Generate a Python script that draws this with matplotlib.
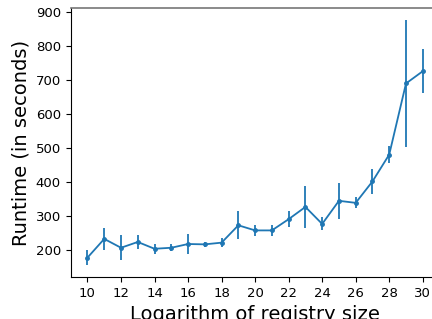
import numpy as np
import matplotlib
matplotlib.use("Agg")
import matplotlib.pyplot as plt

log_size = list(range(10, 31))
runtime = [179, 234, 208, 225, 205, 208, 219, 218, 223, 274,
           259, 259, 292, 328, 278, 346, 340, 403, 482, 691, 727]
runtime_err = [21, 32, 37, 20, 15, 10, 29, 7, 13, 41,
               17, 16, 24, 62, 19, 52, 16, 38, 26, 186, 65]

fig = plt.figure(figsize=(4.32, 3.19), dpi=100)
ax = fig.add_axes([0.1637, 0.1317, 0.8537, 0.8433])

ax.errorbar(log_size, runtime, yerr=runtime_err, marker='.', markersize=5,
            color='tab:blue', linewidth=1.3)

ax.set_xticks(np.arange(10, 31, 2))
ax.set_yticks([200, 300, 400, 500, 600, 700, 800, 900])
ax.tick_params(labelsize=9.5)
ax.spines['top'].set_color('#777777')
ax.spines['top'].set_linewidth(1.2)
ax.set_xlabel("Logarithm of registry size", fontsize=14)
ax.set_ylabel("Runtime (in seconds)", fontsize=14)

fig.savefig("out.png", dpi=100)
